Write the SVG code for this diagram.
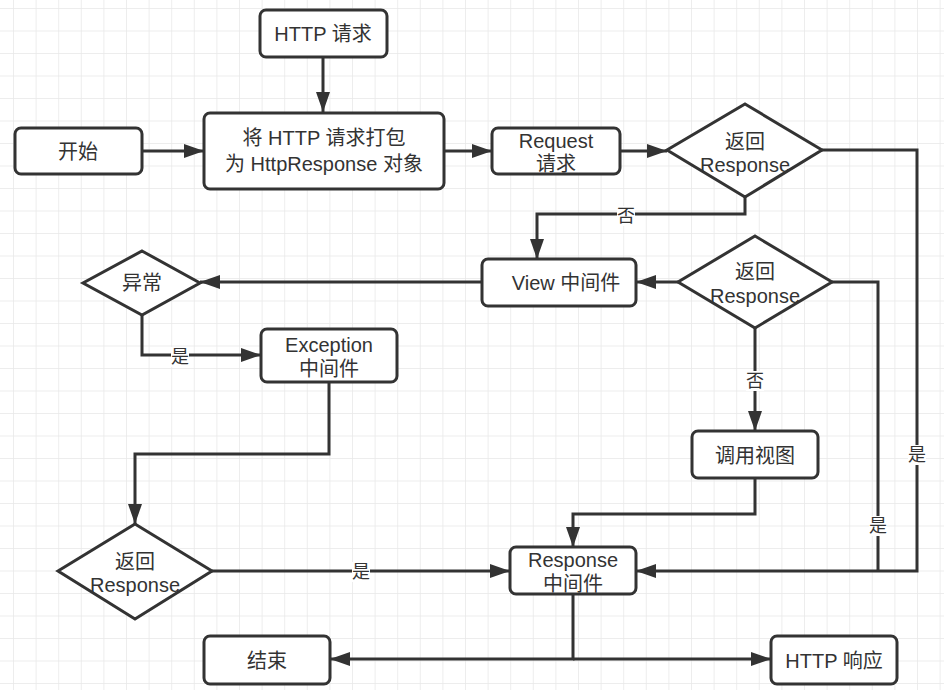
<svg xmlns="http://www.w3.org/2000/svg" width="944" height="690" viewBox="0 0 944 690">
<defs>
<pattern id="grid" x="13" y="8" width="22.6" height="22.5" patternUnits="userSpaceOnUse">
<path d="M0 0 H22.6 M0 0 V22.5" fill="none" stroke="#e8e8e8" stroke-width="1.5"/>
</pattern>
<marker id="arr" viewBox="0 0 20 14" refX="20" refY="7" markerWidth="20" markerHeight="14" markerUnits="userSpaceOnUse" orient="auto">
<path d="M0 0 L20 7 L0 14 Z" fill="#333"/>
</marker>
<style>
.n{fill:#fff;stroke:#333;stroke-width:3}
.t{font-family:"Liberation Sans","Noto Sans CJK SC",sans-serif;font-size:20px;fill:#333;text-anchor:middle;dominant-baseline:central}
.c{fill:none;stroke:#333;stroke-width:3}
.a{marker-end:url(#arr)}
.lb{fill:#fff}
.l{font-family:"Liberation Sans","Noto Sans CJK SC",sans-serif;font-size:18px;fill:#333;text-anchor:middle;dominant-baseline:central}
</style>
</defs>
<rect width="944" height="690" fill="#fff"/>
<rect width="944" height="690" fill="url(#grid)"/>

<g id="connectors">
<path class="c a" d="M323 57 V112"/>
<path class="c a" d="M142 151 H204"/>
<path class="c a" d="M444 151 H492"/>
<path class="c a" d="M620 151 H667"/>
<path class="c a" d="M822 150 H917 V571 H636"/>
<path class="c a" d="M745 197 V214 H537 V259"/>
<path class="c a" d="M678 282 H636"/>
<path class="c a" d="M482 282 H200"/>
<path class="c a" d="M142 315 V355 H261"/>
<path class="c" d="M832 282 H878 V571"/>
<path class="c a" d="M755 328 V431"/>
<path class="c a" d="M755 478 V514 H573 V547"/>
<path class="c a" d="M329 382 V454 H135 V524"/>
<path class="c a" d="M212 571 H510"/>
<path class="c a" d="M573 594 V659 H330"/>
<path class="c a" d="M573 659 H771"/>
<rect class="lb" x="617" y="206" width="18" height="20"/>
<text class="l" x="626" y="216">否</text>
<rect class="lb" x="171" y="347" width="18" height="20"/>
<text class="l" x="180" y="357">是</text>
<rect class="lb" x="746" y="371" width="18" height="20"/>
<text class="l" x="755" y="381">否</text>
<rect class="lb" x="908" y="445" width="18" height="20"/>
<text class="l" x="917" y="455">是</text>
<rect class="lb" x="869" y="516" width="18" height="20"/>
<text class="l" x="878" y="526">是</text>
<rect class="lb" x="352" y="562" width="18" height="20"/>
<text class="l" x="361" y="572">是</text>
</g>

<g id="http-request">
<rect class="n" x="260" y="10" width="127" height="47" rx="6"/>
<text class="t" x="323" y="34">HTTP 请求</text>
</g>
<g id="start">
<rect class="n" x="15" y="128" width="127" height="46" rx="6"/>
<text class="t" x="78" y="152">开始</text>
</g>
<g id="pack">
<rect class="n" x="204" y="113" width="240" height="76" rx="6"/>
<text class="t" x="324" y="138">将 HTTP 请求打包</text>
<text class="t" x="324" y="164">为 HttpResponse 对象</text>
</g>
<g id="request-mw">
<rect class="n" x="492" y="128" width="128" height="46" rx="6"/>
<text class="t" x="556" y="141">Request</text>
<text class="t" x="556" y="164">请求</text>
</g>
<g id="decision1">
<polygon class="n" points="745,104 822,150 745,197 667,150"/>
<text class="t" x="745" y="142">返回</text>
<text class="t" x="745" y="165">Response</text>
</g>
<g id="view-mw">
<rect class="n" x="482" y="259" width="154" height="47" rx="6"/>
<text class="t" x="566" y="283">View 中间件</text>
</g>
<g id="decision2">
<polygon class="n" points="755,236 832,282 755,328 678,282"/>
<text class="t" x="755" y="272">返回</text>
<text class="t" x="755" y="296">Response</text>
</g>
<g id="exception-check">
<polygon class="n" points="142,251 200,283 142,315 83,283"/>
<text class="t" x="142" y="283">异常</text>
</g>
<g id="exception-mw">
<rect class="n" x="261" y="329" width="136" height="53" rx="6"/>
<text class="t" x="329" y="345">Exception</text>
<text class="t" x="329" y="369">中间件</text>
</g>
<g id="call-view">
<rect class="n" x="692" y="431" width="126" height="47" rx="6"/>
<text class="t" x="755" y="456">调用视图</text>
</g>
<g id="decision3">
<polygon class="n" points="135,524 212,571 135,619 58,571"/>
<text class="t" x="135" y="562">返回</text>
<text class="t" x="135" y="585">Response</text>
</g>
<g id="response-mw">
<rect class="n" x="510" y="547" width="126" height="47" rx="6"/>
<text class="t" x="573" y="560">Response</text>
<text class="t" x="573" y="584">中间件</text>
</g>
<g id="end">
<rect class="n" x="204" y="636" width="126" height="48" rx="6"/>
<text class="t" x="267" y="661">结束</text>
</g>
<g id="http-response">
<rect class="n" x="771" y="636" width="126" height="48" rx="6"/>
<text class="t" x="834" y="661">HTTP 响应</text>
</g>
</svg>
